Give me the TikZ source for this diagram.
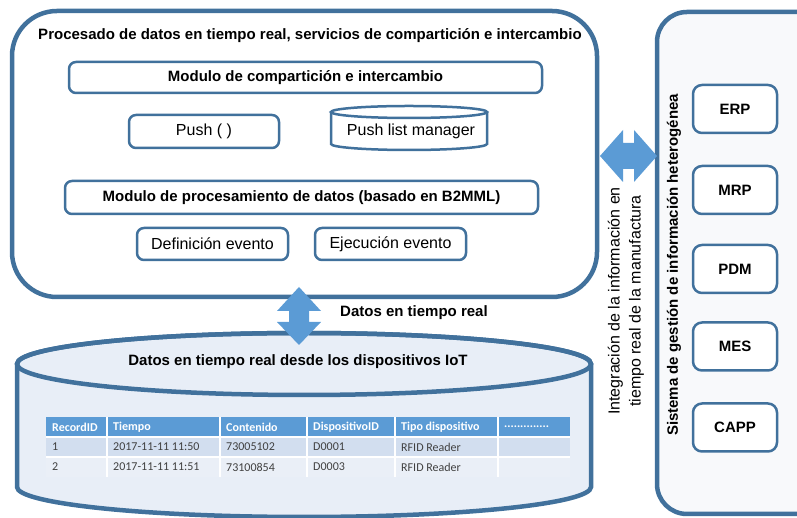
\documentclass[tikz,border=0pt]{standalone}
\usepackage{fontspec}
\setmainfont{Liberation Sans}
\newfontfamily\tabfont{Carlito}
\definecolor{edge}{HTML}{41719C}
\definecolor{arrowc}{HTML}{5B9BD5}
\definecolor{cylfill}{HTML}{E8EEF7}
\definecolor{panelfill}{HTML}{F8F9FB}
\definecolor{thead}{HTML}{5B9BD5}
\definecolor{rowa}{HTML}{D2DEEF}
\definecolor{rowb}{HTML}{EAEFF7}
\definecolor{tabtxt}{HTML}{404040}
\tikzset{
  outerline/.style={draw=edge, line width=4.5pt},
  boxn/.style={draw=edge, line width=2.5pt, rounded corners=7pt, fill=white, inner sep=0pt},
  bt/.style={font=\bfseries\fontsize{15}{18}\selectfont},
  rt/.style={font=\fontsize{16}{19}\selectfont},
  blockarrow/.style={fill=arrowc, draw=none},
  th/.style={font=\tabfont\bfseries\fontsize{12}{14}\selectfont, text=white, anchor=west, inner sep=0pt},
  td/.style={font=\tabfont\fontsize{12}{14}\selectfont, text=tabtxt, anchor=west, inner sep=0pt},
  sysbox/.style={boxn, bt, minimum width=84pt, minimum height=48pt, rounded corners=9pt},
}
\begin{document}
\begin{tikzpicture}[x=1pt,y=1pt]
\useasboundingbox (0,0) rectangle (797,518);

% main processing container
\draw[outerline, fill=white, rounded corners=45pt] (12,221) rectangle (597,507);
\node[bt] (title) at (310,482) {Procesado de datos en tiempo real, servicios de compartición e intercambio};

\node[boxn, bt, minimum width=473pt, minimum height=31pt] (mc) at (305.5,440.5) {Modulo de compartición e intercambio};
\node[boxn, rt, minimum width=150pt, minimum height=33pt] (push) at (204,386.5) {Push ( )};

% push list manager cylinder
\draw[draw=edge, line width=2.5pt, fill=white] (331,406) -- (331,374)
  arc[start angle=180, end angle=360, x radius=78, y radius=6] -- (487,406);
\draw[draw=edge, line width=2.5pt, fill=white] (409,406) ellipse [x radius=78, y radius=6];
\node[rt, inner sep=0pt] (plm) at (411,387) {Push list manager};

\node[boxn, bt, minimum width=473pt, minimum height=33pt] (mp) at (301.5,320.5) {Modulo de procesamiento de datos (basado en B2MML)};
\node[boxn, rt, minimum width=151pt, minimum height=32pt] (def) at (212.5,274) {Definición evento};
\node[boxn, rt, minimum width=151pt, minimum height=32pt] (eje) at (390.5,274) {Ejecución evento};

% IoT data cylinder
\path[outerline, fill=cylfill] (17,154) -- (17,31)
  arc[start angle=180, end angle=360, x radius=287, y radius=30] -- (591,154)
  arc[start angle=0, end angle=180, x radius=287, y radius=31] -- cycle;
\draw[outerline] (304,154) ellipse [x radius=287, y radius=31];
\node[bt] (iot) at (298,156) {Datos en tiempo real desde los dispositivos IoT};

% table
\fill[thead] (46,81) rectangle (570,101);
\fill[rowa] (46,61) rectangle (570,81);
\fill[rowb] (46,41) rectangle (570,61);
\foreach \cx in {107,220,307,395,498} \draw[white, line width=1.2pt] (\cx,41) -- (\cx,101);
\draw[white, line width=1.5pt] (46,81) -- (570,81) (46,61) -- (570,61);
\foreach \x/\t [count=\i] in {46/RecordID,107/Tiempo,220/Contenido,307/DispositivoID,395/Tipo dispositivo,498/{..............}}
  \node[th] (h\i) at (\x+6,91) {\t};
\foreach \x/\t [count=\i] in {46/1,107/2017-11-11 11:50,220/73005102,307/D0001,395/RFID Reader}
  \node[td] (ra\i) at (\x+6,71) {\t};
\foreach \x/\t [count=\i] in {46/2,107/2017-11-11 11:51,220/73100854,307/D0003,395/RFID Reader}
  \node[td] (rb\i) at (\x+6,51) {\t};

% right panel
\draw[outerline, fill=panelfill, rounded corners=30pt] (657,4) rectangle (840,506);
\node[bt, rotate=90] (sys) at (674,253) {Sistema de gestión de información heterogénea};
\node[sysbox] (erp) at (735,409) {ERP};
\node[sysbox] (mrp) at (735,328) {MRP};
\node[sysbox] (pdm) at (735,249) {PDM};
\node[sysbox] (mes) at (735,171.5) {MES};
\node[sysbox] (capp) at (735,90.5) {CAPP};

% integration label
\node[rt, rotate=90, align=center, font=\fontsize{16}{21}\selectfont] (integ) at (626,217)
  {Integración de la información en\\tiempo real de la manufactura};

% block arrows
\fill[blockarrow] (299,231) -- (321,207) -- (309,207) -- (309,196) -- (321,196) -- (299,173)
  -- (277,196) -- (289,196) -- (289,207) -- (277,207) -- cycle;
\node[bt, anchor=west, inner sep=0pt] (dtr) at (340,205) {Datos en tiempo real};
\fill[blockarrow] (600,362) -- (623,388) -- (623,375) -- (634,375) -- (634,388) -- (657,362)
  -- (634,336) -- (634,349) -- (623,349) -- (623,336) -- cycle;
\end{tikzpicture}
\end{document}
